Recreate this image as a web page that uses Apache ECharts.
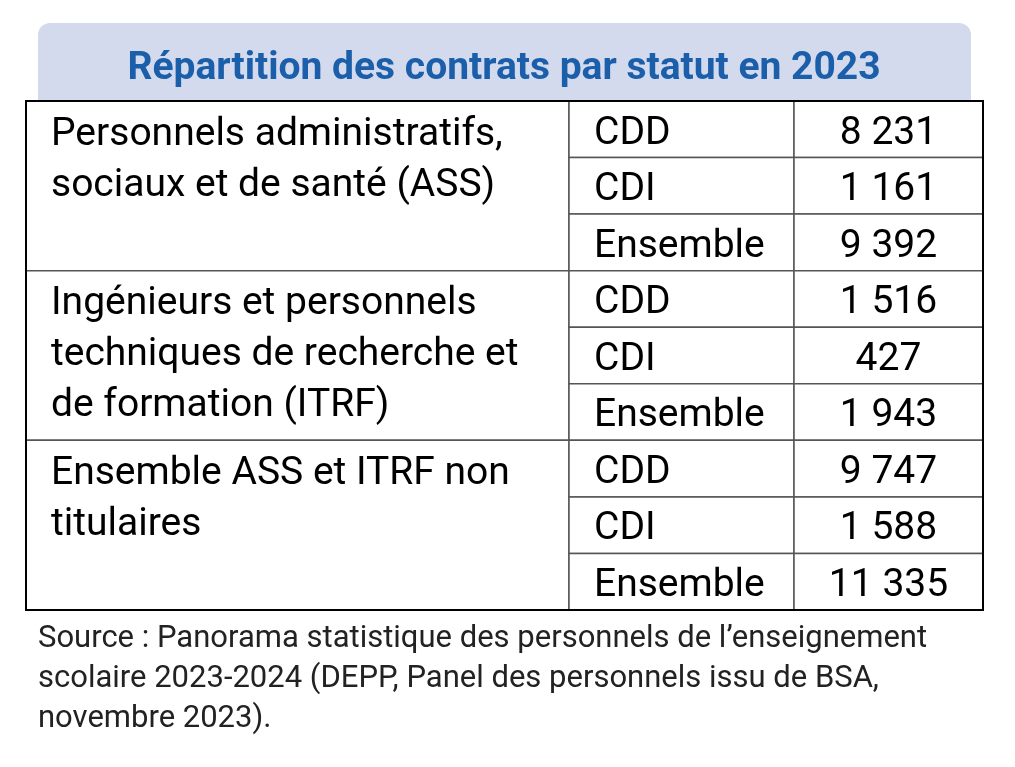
<!DOCTYPE html>
<html><head><meta charset="utf-8">
<script src="https://cdn.jsdelivr.net/npm/echarts@6/dist/echarts.min.js"></script>
<style>html,body{margin:0;padding:0;background:#fff}#c{width:1015px;height:767px}</style>
</head><body><div id="c"></div>
<script>
// ---- data ----
const title = 'Répartition des contrats par statut en 2023';
const groups = [
  'Personnels administratifs,\nsociaux et de santé (ASS)',
  'Ingénieurs et personnels\ntechniques de recherche et\nde formation (ITRF)',
  'Ensemble ASS et ITRF non\ntitulaires'
];
const statuts = ['CDD', 'CDI', 'Ensemble'];
const valuesASS = [8231, 1161, 9392];
const valuesITRF = [1516, 427, 1943];
const valuesTotal = [9747, 1588, 11335];
const source = 'Source : Panorama statistique des personnels de l’enseignement\nscolaire 2023-2024 (DEPP, Panel des personnels issu de BSA,\nnovembre 2023).';

// ---- layout ----
const TBL = {left: 26, top: 101, width: 957, height: 509};
const colEdges = [0, 543, 768, 957];
const PAD = 25;
const FONT = 'Roboto';

const fmt = v => String(v).replace(/\B(?=(\d{3})+(?!\d))/g, ' ');
const groupValues = [valuesASS, valuesITRF, valuesTotal];
const cells = [];
groups.forEach((g, gi) => {
  cells.push({c: 0, r: gi * 3, span: 3, text: g, kind: 'group'});
  statuts.forEach((s, si) => {
    cells.push({c: 1, r: gi * 3 + si, span: 1, text: s, kind: 'status'});
    cells.push({c: 2, r: gi * 3 + si, span: 1, text: fmt(groupValues[gi][si]), kind: 'value'});
  });
});

const chart = echarts.init(document.getElementById('c'), null, {renderer: 'canvas'});
chart.setOption({
  animation: false,
  backgroundColor: '#fff',
  grid: {left: TBL.left, top: TBL.top, width: TBL.width, height: TBL.height, show: false},
  xAxis: {type: 'value', min: 0, max: colEdges[colEdges.length - 1], show: false},
  yAxis: {type: 'value', min: 0, max: groups.length * statuts.length, inverse: true, show: false},
  graphic: [
    {type: 'rect', z: -1, shape: {x: 38, y: 23, width: 933, height: 90, r: [12, 12, 0, 0]}, style: {fill: '#d4daee'}},
    {type: 'text', z: 10, style: {x: 504, y: 69, text: title, font: 'bold 39px ' + FONT, fill: '#1b5ea9', textAlign: 'center', textVerticalAlign: 'middle', align: 'center', verticalAlign: 'middle'}},
    {type: 'rect', z: 100, shape: {x: TBL.left, y: TBL.top, width: TBL.width, height: TBL.height}, style: {fill: 'none', stroke: '#000', lineWidth: 2}},
    {type: 'text', z: 10, style: {x: 38, y: 619, text: source, font: '31px ' + FONT, lineHeight: 40, fill: '#222', textVerticalAlign: 'top', verticalAlign: 'top'}}
  ],
  series: [{
    type: 'custom',
    coordinateSystem: 'cartesian2d',
    data: cells.map(d => [d.c, d.r, d.span]),
    renderItem(params, api) {
      const d = cells[params.dataIndex];
      const p0 = api.coord([colEdges[d.c], d.r]);
      const p1 = api.coord([colEdges[d.c + 1], d.r + d.span]);
      const x = p0[0], y = p0[1], w = p1[0] - p0[0], h = p1[1] - p0[1];
      let ts;
      if (d.kind === 'group') {
        ts = {x: x + PAD, y: y + 8.5, align: 'left', textAlign: 'left', verticalAlign: 'top', textVerticalAlign: 'top', lineHeight: 51};
      } else if (d.kind === 'status') {
        ts = {x: x + PAD, y: y + h / 2 + 4.5, align: 'left', textAlign: 'left', verticalAlign: 'middle', textVerticalAlign: 'middle'};
      } else {
        ts = {x: x + w / 2, y: y + h / 2 + 4.5, align: 'center', textAlign: 'center', verticalAlign: 'middle', textVerticalAlign: 'middle'};
      }
      return {
        type: 'group',
        children: [
          {type: 'rect', shape: {x: x, y: y, width: w, height: h}, style: {fill: '#fff', stroke: '#555', lineWidth: 1.5}},
          {type: 'text', style: Object.assign({text: d.text, font: '39px ' + FONT, fill: '#000'}, ts)}
        ]
      };
    }
  }]
});
</script></body></html>
